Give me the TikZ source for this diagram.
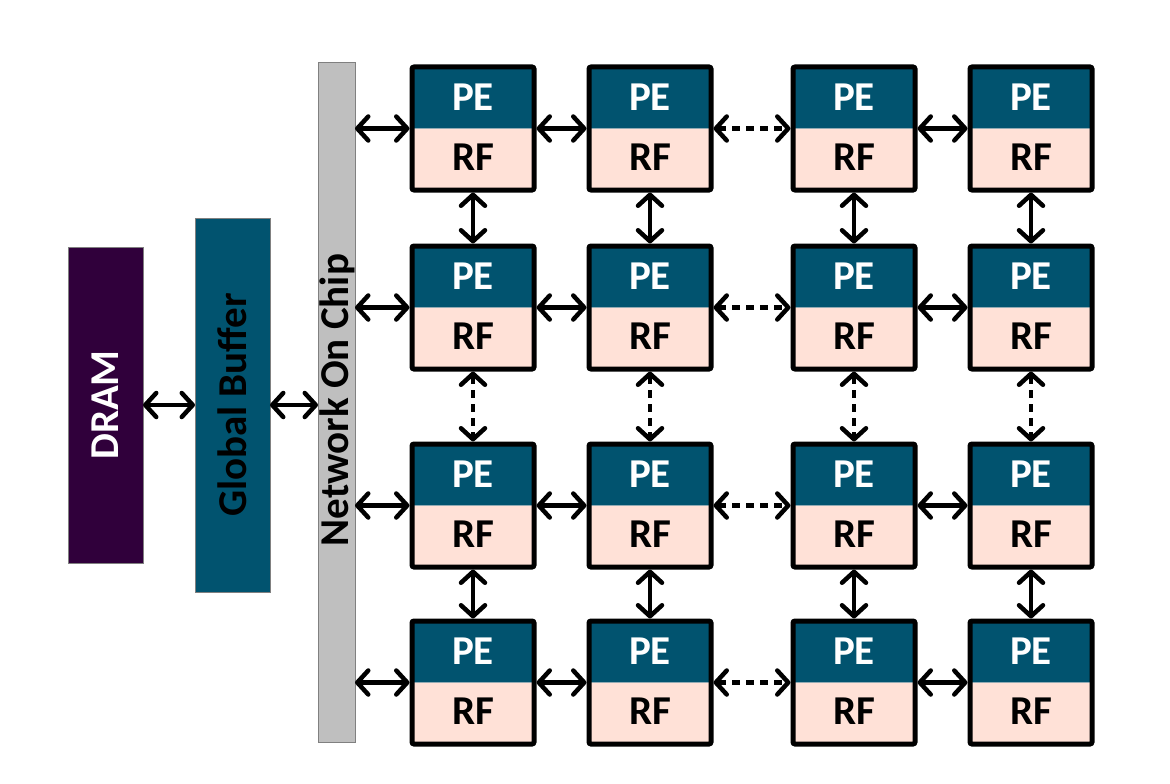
\documentclass[tikz,border=0pt]{standalone}
\usepackage{fontspec}
\setmainfont{Carlito}
\usetikzlibrary{arrows.meta}
\definecolor{dramcol}{HTML}{30003B}
\definecolor{tealcol}{HTML}{01536F}
\definecolor{rfcol}{HTML}{FFE1D7}
\definecolor{noccol}{HTML}{BFBFBF}
\definecolor{nocline}{HTML}{808080}
\tikzset{
  blockbox/.style={draw=nocline, line width=1pt, inner sep=0pt, outer sep=0pt},
  cellbox/.style={draw=black, line width=5pt, rounded corners=2pt, minimum width=122pt, minimum height=123pt, inner sep=0pt, outer sep=2.5pt,
    path picture={
      \fill[tealcol] (path picture bounding box.north west) rectangle (path picture bounding box.east);
      \fill[rfcol] (path picture bounding box.west) rectangle (path picture bounding box.south east);
    }},
  bigtext/.style={font=\fontsize{41}{49}\selectfont\bfseries, inner sep=0pt},
  barb/.tip={Straight Barb[length=11pt,width=24pt,line width=4.5pt,round]},
  arr/.style={line width=4.5pt, barb-barb},
  dasharr/.style={arr, dash pattern=on 8pt off 6pt}
}
\begin{document}
\begin{tikzpicture}[x=1pt,y=-1pt]
\useasboundingbox[fill=white] (0,0) rectangle (1170,784);
% left blocks
\node[blockbox, fill=dramcol, minimum width=75pt, minimum height=316pt] (dram) at (105.5,405) {};
\node[bigtext, text=white, rotate=90] (dramt) at (dram.center) {DRAM};
\node[blockbox, fill=tealcol, minimum width=75pt, minimum height=374pt] (gb) at (232.5,405) {};
\node[bigtext, text=black, rotate=90] (gbt) at (gb.center) {Global Buffer};
\node[blockbox, fill=noccol, minimum width=37pt, minimum height=679pt] (noc) at (336.5,402.5) {};
\node[bigtext, text=black, rotate=90] (noct) at (337,400) {Network On Chip};
% PE grid
\foreach \r/\y in {1/128.5, 2/307.5, 3/505.5, 4/682.5}{
  \foreach \c/\x in {1/473, 2/650, 3/854, 4/1031}{
    \node[cellbox] (c\r\c) at (\x,\y) {};
    \node[bigtext, text=white] (pe\r\c) at ([yshift=31pt]c\r\c.center) {PE};
    \node[bigtext, text=black] (rf\r\c) at ([yshift=-29pt]c\r\c.center) {RF};
  }
}
% connectors
\draw[arr] (dram.east) -- (gb.west);
\draw[arr] (gb.east) -- (noc.west |- gb.east);
\foreach \r in {1,...,4}{
  \draw[arr] (noc.east |- c\r1.west) -- (c\r1.west);
  \draw[arr] (c\r1.east) -- (c\r2.west);
  \draw[dasharr] (c\r2.east) -- (c\r3.west);
  \draw[arr] (c\r3.east) -- (c\r4.west);
}
\foreach \c in {1,...,4}{
  \draw[arr] (c1\c.south) -- (c2\c.north);
  \draw[dasharr] (c2\c.south) -- (c3\c.north);
  \draw[arr] (c3\c.south) -- (c4\c.north);
}
\end{tikzpicture}
\end{document}
